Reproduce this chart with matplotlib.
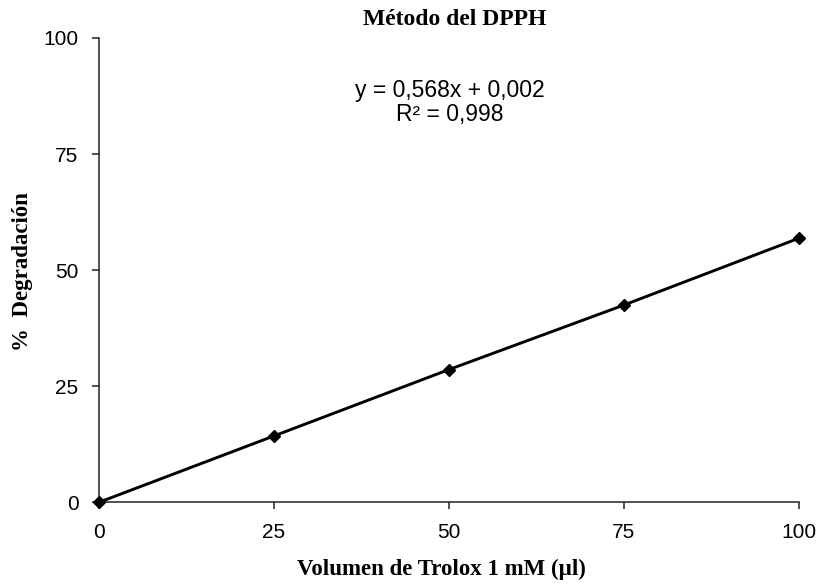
import numpy as np
import matplotlib
matplotlib.use("Agg")
import matplotlib.pyplot as plt

# Método del DPPH - curva de calibración con Trolox
volumen = [0, 25, 50, 75, 100]
degradacion = [0, 14.3, 28.6, 42.5, 56.9]
ticks = [0, 25, 50, 75, 100]
ecuacion = "y = 0,568x + 0,002\nR² = 0,998"

serif = "Liberation Serif"
sans = "Liberation Sans"

fig = plt.figure(figsize=(8.17, 5.84), dpi=100)
ax = fig.add_axes([0.1206, 0.1396, 0.8574, 0.7954])

ax.plot(volumen, degradacion, color="black", lw=2.1, marker="D", ms=6,
        clip_on=False, zorder=3)

ax.set_xlim(0, 100)
ax.set_ylim(0, 100)
ax.set_xticks(ticks)
ax.set_yticks(ticks)
for lab in ax.get_xticklabels() + ax.get_yticklabels():
    lab.set_family(sans)
    lab.set_fontsize(15)

ax.spines["top"].set_visible(False)
ax.spines["right"].set_visible(False)
for s in ["left", "bottom"]:
    ax.spines[s].set_linewidth(1.1)
    ax.spines[s].set_color("#222222")
ax.tick_params(direction="out", length=5, width=1.1, color="#222222", pad=9.5)

ax.text(0.502, 0.862, ecuacion, transform=ax.transAxes, ha="center", va="center",
        family=sans, fontsize=16.5, linespacing=1.05)

fig.text(0.556, 0.966, "Método del DPPH", ha="center", va="center",
         family=serif, fontweight="bold", fontsize=17)
ax.set_xlabel("Volumen de Trolox 1 mM (µl)", family=serif, fontweight="bold",
              fontsize=16.5, va="center")
ax.xaxis.set_label_coords(0.49, -0.145)
ax.set_ylabel("%  Degradación", family=serif, fontweight="bold",
              fontsize=16.5, va="center")
ax.yaxis.set_label_coords(-0.109, 0.497)

fig.savefig("out.png", dpi=100)
